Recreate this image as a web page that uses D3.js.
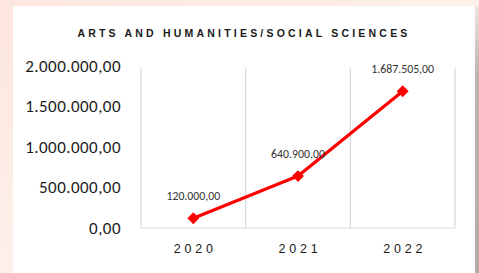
<!DOCTYPE html>
<html><head><meta charset="utf-8">
<script src="https://cdn.jsdelivr.net/npm/d3@7"></script>
<style>html,body{margin:0;padding:0;overflow:hidden;}</style>
</head><body>
<svg id="c" width="479" height="273"></svg>
<script>
const title = "ARTS AND HUMANITIES/SOCIAL SCIENCES";
const categories = ["2020", "2021", "2022"];
const values = [120000, 640900, 1687505];
const yTicks = [0, 500000, 1000000, 1500000, 2000000];

const svg = d3.select("#c");
const W = 479, H = 273;

// background
const defs = svg.append("defs");
const g1 = defs.append("linearGradient").attr("id","bg").attr("x1","0").attr("y1","0").attr("x2","1").attr("y2","1");
g1.append("stop").attr("offset","0").attr("stop-color","#fde6dd");
g1.append("stop").attr("offset","0.5").attr("stop-color","#fdf0ea");
g1.append("stop").attr("offset","1").attr("stop-color","#fbe4da");
svg.append("rect").attr("width",W).attr("height",H).attr("fill","url(#bg)");
const g2 = defs.append("linearGradient").attr("id","rs").attr("x1","0").attr("y1","0").attr("x2","0").attr("y2","1");
g2.append("stop").attr("offset","0").attr("stop-color","#efe5e0");
g2.append("stop").attr("offset","0.25").attr("stop-color","#bdb3b0");
g2.append("stop").attr("offset","1").attr("stop-color","#b4aaa6");
svg.append("rect").attr("x",475).attr("y",6).attr("width",4).attr("height",H-6).attr("fill","url(#rs)");
svg.append("rect").attr("x",13).attr("y",6).attr("width",462).attr("height",H-6).attr("fill","#ffffff");

const x = d3.scaleBand().domain(categories).range([141, 455]).padding(0);
const y = d3.scaleLinear().domain([0, 2000000]).range([228, 66]);

const fmt = v => {
  const s = d3.format(",.2f")(v);
  return s.replace(/,/g,"#").replace(".",",").replace(/#/g,".");
};

// title
svg.append("text").attr("x",244).attr("y",37).attr("text-anchor","middle")
  .attr("font-family","Liberation Sans, Arial, sans-serif").attr("font-size",10.5).attr("font-weight","bold")
  .attr("letter-spacing","3.2").attr("fill","#1a1a1a").text(title);

// vertical category boundary lines
const bounds = categories.map(c => x(c)).concat([x.range()[1]]);
svg.append("g").selectAll("line").data(bounds).join("line")
  .attr("x1",d=>d).attr("x2",d=>d).attr("y1",y(2000000)+2).attr("y2",y(0))
  .attr("stroke","#d9d9d9").attr("stroke-width",1.2);
svg.append("line").attr("x1",x.range()[0]).attr("x2",x.range()[1]).attr("y1",y(0)).attr("y2",y(0))
  .attr("stroke","#d9d9d9").attr("stroke-width",1.2);

// y axis labels
const yAxis = d3.axisLeft(y).tickValues(yTicks).tickFormat(fmt).tickSize(0).tickPadding(20);
const ya = svg.append("g").attr("transform","translate(141,0)").call(yAxis);
ya.select(".domain").remove();
ya.selectAll("text").attr("font-family","Calibri, Carlito, Liberation Sans, Arial, sans-serif")
  .attr("font-size",17).attr("letter-spacing","0.45").attr("fill","#1a1a1a").attr("dy","0.32em");

// x axis labels
const xAxis = d3.axisBottom(x).tickSize(0).tickPadding(16);
const xa = svg.append("g").attr("transform","translate(2,228)").call(xAxis);
xa.select(".domain").remove();
xa.selectAll("text").attr("font-family","Liberation Sans, Arial, sans-serif")
  .attr("font-size",12.5).attr("letter-spacing","3.8").attr("fill","#1a1a1a");

// line
const pts = categories.map((c,i)=>[x(c)+x.bandwidth()/2, y(values[i])]);
svg.append("path").attr("d", d3.line()(pts)).attr("fill","none")
  .attr("stroke","#ff0000").attr("stroke-width",3.2).attr("stroke-linejoin","round");
svg.append("g").selectAll("path").data(pts).join("path")
  .attr("d", d3.symbol().type(d3.symbolDiamond2 || d3.symbolDiamond).size(90))
  .attr("transform", d=>`translate(${d[0]},${d[1]})`)
  .attr("fill","#ff0000");

// data labels
svg.append("g").selectAll("text").data(values).join("text")
  .attr("x",(d,i)=>pts[i][0]).attr("y",(d,i)=>pts[i][1]-18)
  .attr("text-anchor","middle").attr("font-family","Calibri, Carlito, Liberation Sans, Arial, sans-serif")
  .attr("font-size",11.8).attr("fill","#333333").text(fmt);
</script>
</body></html>
